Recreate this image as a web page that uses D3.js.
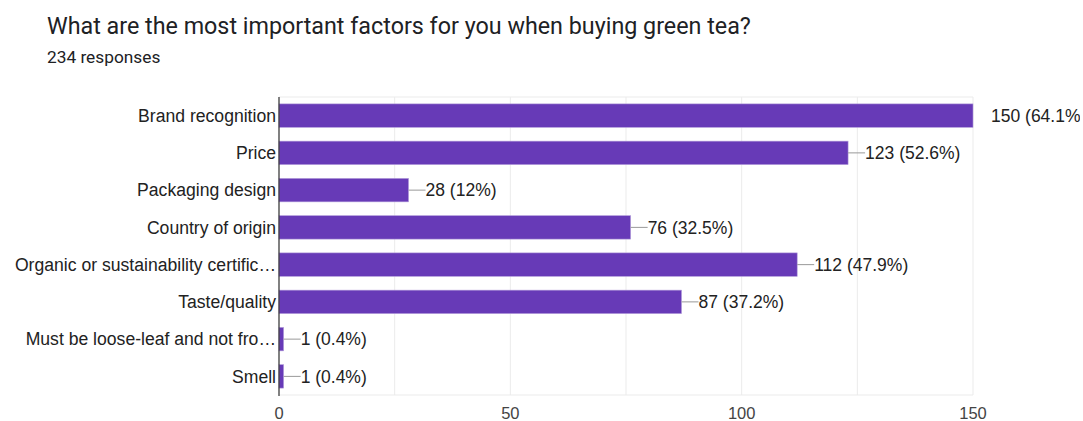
<!DOCTYPE html>
<html>
<head>
<meta charset="utf-8">
<script src="https://cdn.jsdelivr.net/npm/d3@7"></script>
<style>
  html, body { margin: 0; padding: 0; background: #fff; }
  svg { display: block; }
</style>
</head>
<body>
<svg id="chart" width="1083" height="421"></svg>
<script>
// Survey question and response count
const title = "What are the most important factors for you when buying green tea?";
const subtitle = "234 responses";

// Answer options (as shown, truncated labels keep their ellipsis)
const categories = [
  "Brand recognition",
  "Price",
  "Packaging design",
  "Country of origin",
  "Organic or sustainability certific\u2026",
  "Taste/quality",
  "Must be loose-leaf and not fro\u2026",
  "Smell"
];
// Number of respondents choosing each option
const counts = [150, 123, 28, 76, 112, 87, 1, 1];
// Share of all respondents, as printed
const percents = ["64.1%", "52.6%", "12%", "32.5%", "47.9%", "37.2%", "0.4%", "0.4%"];
// Axis ticks
const tickValues = [0, 50, 100, 150];
const gridValues = [0, 25, 50, 75, 100, 125, 150];

const svg = d3.select("#chart");
const W = 1083, H = 421;
const margin = { left: 279, right: W - 973, top: 97, bottom: H - 395 };
const labelFont = "'Liberation Sans', Arial, sans-serif";

svg.append("defs").append("clipPath").attr("id", "clipArea")
  .append("rect").attr("x", 0).attr("y", 0).attr("width", 1080).attr("height", H);

svg.append("text")
  .attr("x", 47).attr("y", 34)
  .attr("font-family", "Roboto, 'Noto Sans', sans-serif")
  .attr("font-size", 23.3)
  .attr("fill", "#202124")
  .text(title);

svg.append("text")
  .attr("x", 47).attr("y", 63)
  .attr("font-family", "Roboto, 'Noto Sans', sans-serif")
  .attr("font-size", 17.3)
  .attr("fill", "#202124")
  .text(subtitle);

const x = d3.scaleLinear().domain([0, 150]).range([margin.left, W - margin.right]);
const y = d3.scaleBand().domain(categories).range([margin.top, H - margin.bottom]).paddingInner(0.37).paddingOuter(0.185);

const g = svg.append("g").attr("clip-path", "url(#clipArea)");

// vertical gridlines
g.append("g").selectAll("line").data(gridValues).join("line")
  .attr("x1", d => x(d)).attr("x2", d => x(d))
  .attr("y1", margin.top).attr("y2", H - margin.bottom)
  .attr("stroke", "#ebebeb").attr("stroke-width", 1);

// top and bottom frame lines
[margin.top, H - margin.bottom].forEach(yy => {
  g.append("line")
    .attr("x1", x(0)).attr("x2", x(150))
    .attr("y1", yy).attr("y2", yy)
    .attr("stroke", "#ebebeb").attr("stroke-width", 1);
});

// bars
g.append("g").selectAll("rect").data(counts).join("rect")
  .attr("x", x(0))
  .attr("y", (d, i) => y(categories[i]))
  .attr("width", d => x(d) - x(0))
  .attr("height", y.bandwidth())
  .attr("fill", "#673ab7")
  .attr("stroke", "#b39ddb").attr("stroke-width", 0.6);

// leader lines and value labels
counts.forEach((d, i) => {
  const cy = y(categories[i]) + y.bandwidth() / 2;
  const last = d === d3.max(counts);
  const x0 = x(d);
  const tx = last ? x0 + 18 : x0 + 17;
  if (!last) {
    g.append("line")
      .attr("x1", x0).attr("x2", tx)
      .attr("y1", cy).attr("y2", cy)
      .attr("stroke", "#999").attr("stroke-width", 1);
  }
  g.append("text")
    .attr("x", tx).attr("y", cy)
    .attr("dy", "0.35em")
    .attr("font-family", labelFont)
    .attr("font-size", 17.5)
    .attr("fill", "#222")
    .text(`${d} (${percents[i]})`);
});

// baseline axis
g.append("line")
  .attr("x1", x(0)).attr("x2", x(0))
  .attr("y1", margin.top).attr("y2", H - margin.bottom + 1)
  .attr("stroke", "#333").attr("stroke-width", 1.2);

// category labels
svg.append("g").selectAll("text").data(categories).join("text")
  .attr("x", x(0) - 3)
  .attr("y", d => y(d) + y.bandwidth() / 2)
  .attr("dy", "0.35em")
  .attr("text-anchor", "end")
  .attr("font-family", labelFont)
  .attr("font-size", 17.6)
  .attr("fill", "#222")
  .text(d => d);

// x tick labels
svg.append("g").selectAll("text").data(tickValues).join("text")
  .attr("x", d => x(d))
  .attr("y", 418.5)
  .attr("text-anchor", "middle")
  .attr("font-family", labelFont)
  .attr("font-size", 16.5)
  .attr("fill", "#444")
  .text(d => d);
</script>
</body>
</html>
